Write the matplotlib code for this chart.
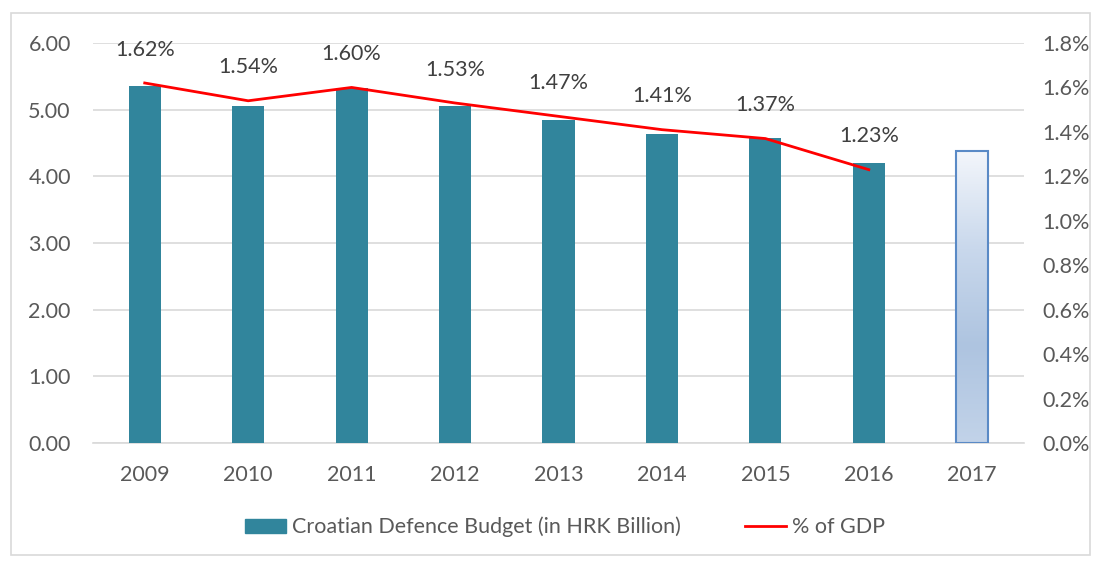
import numpy as np
import matplotlib.pyplot as plt
from matplotlib.patches import Rectangle
from matplotlib.ticker import FuncFormatter

years = ["2009", "2010", "2011", "2012", "2013", "2014", "2015", "2016", "2017"]
budget = [5.36, 5.06, 5.33, 5.06, 4.84, 4.63, 4.58, 4.20, 4.38]
gdp_pct = [1.62, 1.54, 1.60, 1.53, 1.47, 1.41, 1.37, 1.23]

plt.rcParams['font.family'] = ['Lato', 'DejaVu Sans']
txt = '#595959'
fs = 15.5

fig = plt.figure(figsize=(10.97, 5.62), dpi=100)
ax = fig.add_axes([93 / 1097, 1 - 443 / 562, 931 / 1097, 400 / 562])
ax2 = ax.twinx()

x = np.arange(len(years))
w = 0.31
bars = ax.bar(x[:-1], budget[:-1], width=w, color='#31859c', zorder=3)

# 2017 bar: gradient fill with blue border
b = ax.bar(x[-1], budget[-1], width=w, color='none', edgecolor='#5a8ac6', linewidth=1.5, zorder=4)[0]
grad = np.linspace(0, 1, 256).reshape(-1, 1)
cmap = plt.matplotlib.colors.LinearSegmentedColormap.from_list(
    'g', ['#c2d3e9', '#aec4e0', '#c9d8ec', '#f3f6fb'])
im = ax.imshow(grad, cmap=cmap, aspect='auto', origin='lower',
               extent=[x[-1] - w / 2, x[-1] + w / 2, 0, budget[-1]], zorder=3)
im.set_clip_path(b)

ax.set_xlim(-0.5, len(years) - 0.5)
ax.set_ylim(0, 6)
ax.set_yticks(np.arange(0, 6.01, 1))
ax.yaxis.set_major_formatter(FuncFormatter(lambda v, p: f"{v:.2f}"))
ax.set_xticks(x)
ax.set_xticklabels(years)
ax.grid(axis='y', color='#d9d9d9', linewidth=1.2, zorder=0)
ax.set_axisbelow(True)

ax2.plot(x[:len(gdp_pct)], gdp_pct, color='#ff0000', linewidth=2, zorder=5)
ax2.set_ylim(0, 1.8)
ax2.set_yticks(np.arange(0, 1.81, 0.2))
ax2.yaxis.set_major_formatter(FuncFormatter(lambda v, p: f"{v:.1f}%"))
for xi, v in zip(x, gdp_pct):
    ax2.annotate(f"{v:.2f}%", xy=(xi, v), xytext=(0, 24), textcoords='offset points',
                 ha='center', va='center', fontsize=fs, color='#404040')

for a in (ax, ax2):
    for s in a.spines.values():
        s.set_visible(False)
    a.tick_params(length=0, labelsize=fs, labelcolor=txt)
ax.tick_params(axis='y', pad=16)
ax.tick_params(axis='x', pad=16)
ax2.tick_params(axis='y', pad=13)
ax.spines['bottom'].set_visible(True)
ax.spines['bottom'].set_color('#d9d9d9')
ax.spines['bottom'].set_linewidth(1.2)

# legend
h1 = Rectangle((0, 0), 1, 1, color='#31859c')
h2 = plt.Line2D([], [], color='#ff0000', linewidth=2)
fig.legend([h1, h2], ["Croatian Defence Budget (in HRK Billion)", "% of GDP"],
           loc='center', bbox_to_anchor=(565 / 1097, 1 - 527 / 562), ncol=2, frameon=False,
           fontsize=fs, labelcolor=txt, handlelength=1.9, handleheight=0.6,
           columnspacing=3.0, handletextpad=0.25)

# outer frame
fig.add_artist(Rectangle((11 / 1097, 1 - 555 / 562), 1079 / 1097, 542 / 562,
                         transform=fig.transFigure, fill=False, edgecolor='#d9d9d9', linewidth=1.2))

fig.savefig('out.png', dpi=100)
